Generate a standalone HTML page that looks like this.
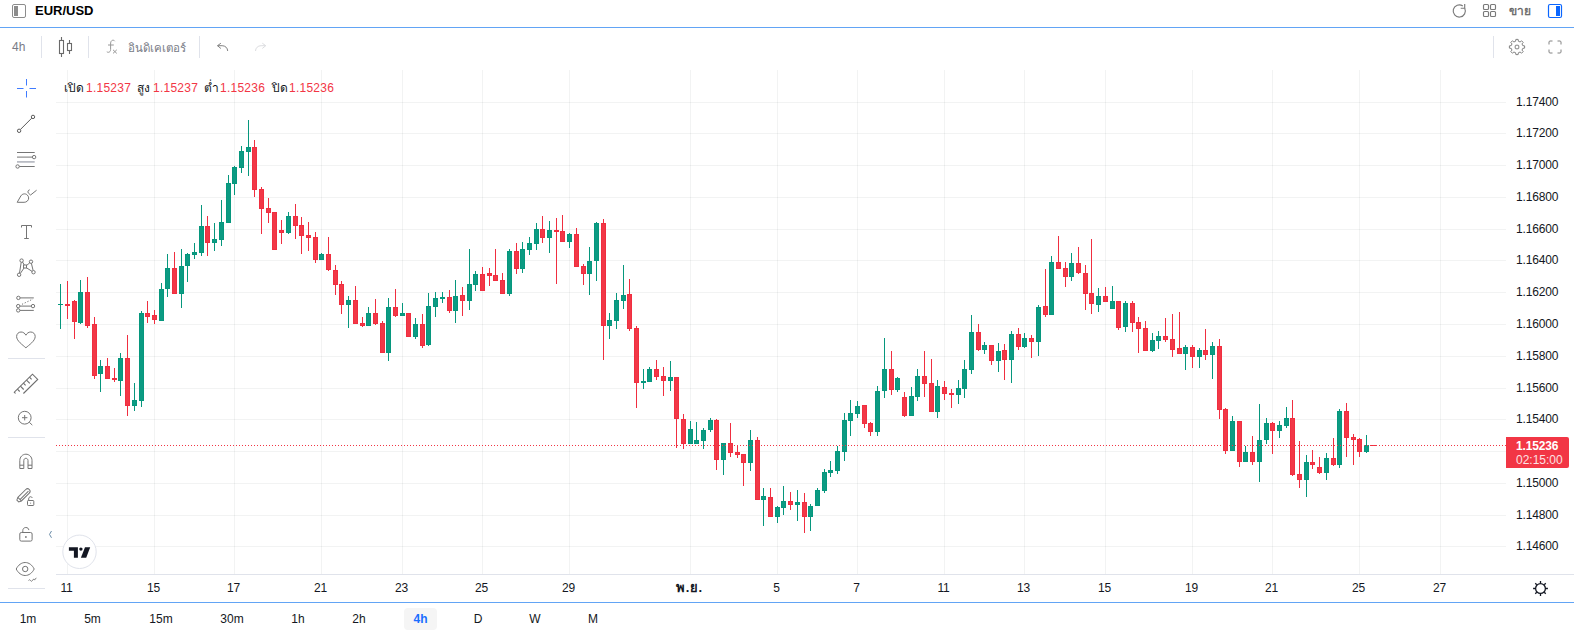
<!DOCTYPE html>
<html lang="th">
<head>
<meta charset="utf-8">
<title>EUR/USD</title>
<style>
*{box-sizing:border-box;margin:0;padding:0}
html,body{width:1574px;height:633px;overflow:hidden;background:#fff}
body{position:relative;font-family:"Liberation Sans",sans-serif;font-size:12px;color:#131722}
.abs{position:absolute}
#topbar{position:absolute;left:0;top:0;width:1574px;height:28px;border-bottom:1px solid #62a4f5}
#title{position:absolute;left:35px;top:2.5px;font-weight:bold;font-size:13px;line-height:16px;color:#000}
#sell{position:absolute;left:1509px;top:3px;font-size:12px;line-height:16px;color:#666;-webkit-text-stroke:0.35px #666}
#tb2{position:absolute;left:0;top:28px;width:1574px;height:38px}
.sep{position:absolute;top:36px;width:1px;height:22px;background:#e0e3eb}
#tf4h{position:absolute;left:12px;top:40px;font-size:12px;line-height:14px;color:#787b86}
#ind{position:absolute;left:128px;top:40px;font-size:11.5px;line-height:16px;color:#787b86}
.lg{position:absolute;top:80px;line-height:16px;font-size:12px;white-space:nowrap;color:#131722}
.lv{position:absolute;top:80px;line-height:16px;font-size:12px;white-space:nowrap;color:#f23645;letter-spacing:0.25px}
.pl{position:absolute;left:1516px;width:56px;font-size:12px;line-height:14px;color:#131722;letter-spacing:-0.15px}
.tl{position:absolute;top:581px;width:41px;text-align:center;font-size:12px;line-height:14px;color:#131722;letter-spacing:-0.15px}
.tl.b{font-weight:bold;font-size:13px;letter-spacing:.6px}
#plbl{position:absolute;left:1506px;top:437px;width:63px;height:31px;background:#f23645;border-radius:0 2px 2px 0;color:#fff;font-size:12px;line-height:14px;padding:2px 0 0 10px;letter-spacing:-0.15px}
#plbl b{display:block}
#plbl span{display:block;opacity:.85;margin-top:-0.5px;letter-spacing:0}
#bottomline{position:absolute;left:0;top:602px;width:1574px;height:1px;background:#62a4f5}
.tf{position:absolute;top:611px;width:32px;height:16px;text-align:center;font-size:12px;line-height:16px;color:#131722}
.tf.sel{color:#1a6eff;font-weight:bold;background:#f5f5f5;border-radius:4px;top:608px;height:22px;line-height:23px;left:404px !important;width:33px}
.lsep{position:absolute;left:8px;width:37px;height:1px;background:#e0e3eb}
svg{position:absolute;left:0;top:0}
</style>
</head>
<body>
<svg id="chart" width="1574" height="633" viewBox="0 0 1574 633" shape-rendering="crispEdges">
<rect x="56" y="102" width="1450" height="1" fill="rgba(42,46,57,0.06)"/>
<rect x="56" y="133" width="1450" height="1" fill="rgba(42,46,57,0.06)"/>
<rect x="56" y="165" width="1450" height="1" fill="rgba(42,46,57,0.06)"/>
<rect x="56" y="197" width="1450" height="1" fill="rgba(42,46,57,0.06)"/>
<rect x="56" y="229" width="1450" height="1" fill="rgba(42,46,57,0.06)"/>
<rect x="56" y="260" width="1450" height="1" fill="rgba(42,46,57,0.06)"/>
<rect x="56" y="292" width="1450" height="1" fill="rgba(42,46,57,0.06)"/>
<rect x="56" y="324" width="1450" height="1" fill="rgba(42,46,57,0.06)"/>
<rect x="56" y="356" width="1450" height="1" fill="rgba(42,46,57,0.06)"/>
<rect x="56" y="388" width="1450" height="1" fill="rgba(42,46,57,0.06)"/>
<rect x="56" y="419" width="1450" height="1" fill="rgba(42,46,57,0.06)"/>
<rect x="56" y="451" width="1450" height="1" fill="rgba(42,46,57,0.06)"/>
<rect x="56" y="483" width="1450" height="1" fill="rgba(42,46,57,0.06)"/>
<rect x="56" y="515" width="1450" height="1" fill="rgba(42,46,57,0.06)"/>
<rect x="56" y="546" width="1450" height="1" fill="rgba(42,46,57,0.06)"/>
<rect x="67" y="70" width="1" height="504" fill="rgba(42,46,57,0.06)"/>
<rect x="154" y="70" width="1" height="504" fill="rgba(42,46,57,0.06)"/>
<rect x="234" y="70" width="1" height="504" fill="rgba(42,46,57,0.06)"/>
<rect x="321" y="70" width="1" height="504" fill="rgba(42,46,57,0.06)"/>
<rect x="402" y="70" width="1" height="504" fill="rgba(42,46,57,0.06)"/>
<rect x="482" y="70" width="1" height="504" fill="rgba(42,46,57,0.06)"/>
<rect x="569" y="70" width="1" height="504" fill="rgba(42,46,57,0.06)"/>
<rect x="690" y="70" width="1" height="504" fill="rgba(42,46,57,0.06)"/>
<rect x="777" y="70" width="1" height="504" fill="rgba(42,46,57,0.06)"/>
<rect x="857" y="70" width="1" height="504" fill="rgba(42,46,57,0.06)"/>
<rect x="944" y="70" width="1" height="504" fill="rgba(42,46,57,0.06)"/>
<rect x="1024" y="70" width="1" height="504" fill="rgba(42,46,57,0.06)"/>
<rect x="1105" y="70" width="1" height="504" fill="rgba(42,46,57,0.06)"/>
<rect x="1192" y="70" width="1" height="504" fill="rgba(42,46,57,0.06)"/>
<rect x="1272" y="70" width="1" height="504" fill="rgba(42,46,57,0.06)"/>
<rect x="1359" y="70" width="1" height="504" fill="rgba(42,46,57,0.06)"/>
<rect x="1440" y="70" width="1" height="504" fill="rgba(42,46,57,0.06)"/>
<rect x="56" y="574" width="1518" height="1" fill="#e0e3eb"/>
<rect x="60" y="284" width="1" height="45" fill="#06977d"/><rect x="58" y="304" width="5" height="1" fill="#06977d"/>
<rect x="67" y="281" width="1" height="38" fill="#f02e40"/><rect x="65" y="304" width="5" height="2" fill="#f02e40"/>
<rect x="74" y="300" width="1" height="39" fill="#f02e40"/><rect x="72" y="301" width="5" height="21" fill="#f02e40"/><rect x="73" y="302" width="3" height="19" fill="#f23847"/>
<rect x="80" y="280" width="1" height="44" fill="#06977d"/><rect x="78" y="292" width="5" height="31" fill="#06977d"/><rect x="79" y="293" width="3" height="29" fill="#0c9b83"/>
<rect x="87" y="277" width="1" height="51" fill="#f02e40"/><rect x="85" y="292" width="5" height="34" fill="#f02e40"/><rect x="86" y="293" width="3" height="32" fill="#f23847"/>
<rect x="94" y="317" width="1" height="62" fill="#f02e40"/><rect x="92" y="324" width="5" height="52" fill="#f02e40"/><rect x="93" y="325" width="3" height="50" fill="#f23847"/>
<rect x="100" y="360" width="1" height="32" fill="#06977d"/><rect x="98" y="366" width="5" height="8" fill="#06977d"/><rect x="99" y="367" width="3" height="6" fill="#0c9b83"/>
<rect x="107" y="358" width="1" height="21" fill="#f02e40"/><rect x="105" y="366" width="5" height="13" fill="#f02e40"/><rect x="106" y="367" width="3" height="11" fill="#f23847"/>
<rect x="114" y="368" width="1" height="14" fill="#f02e40"/><rect x="112" y="378" width="5" height="2" fill="#f02e40"/>
<rect x="120" y="353" width="1" height="43" fill="#06977d"/><rect x="118" y="358" width="5" height="23" fill="#06977d"/><rect x="119" y="359" width="3" height="21" fill="#0c9b83"/>
<rect x="127" y="335" width="1" height="81" fill="#f02e40"/><rect x="125" y="358" width="5" height="48" fill="#f02e40"/><rect x="126" y="359" width="3" height="46" fill="#f23847"/>
<rect x="134" y="383" width="1" height="28" fill="#06977d"/><rect x="132" y="400" width="5" height="6" fill="#06977d"/><rect x="133" y="401" width="3" height="4" fill="#0c9b83"/>
<rect x="141" y="311" width="1" height="96" fill="#06977d"/><rect x="139" y="313" width="5" height="88" fill="#06977d"/><rect x="140" y="314" width="3" height="86" fill="#0c9b83"/>
<rect x="147" y="301" width="1" height="22" fill="#f02e40"/><rect x="145" y="313" width="5" height="4" fill="#f02e40"/><rect x="146" y="314" width="3" height="2" fill="#f23847"/>
<rect x="154" y="310" width="1" height="14" fill="#f02e40"/><rect x="152" y="315" width="5" height="5" fill="#f02e40"/><rect x="153" y="316" width="3" height="3" fill="#f23847"/>
<rect x="161" y="283" width="1" height="38" fill="#06977d"/><rect x="159" y="289" width="5" height="32" fill="#06977d"/><rect x="160" y="290" width="3" height="30" fill="#0c9b83"/>
<rect x="167" y="254" width="1" height="43" fill="#06977d"/><rect x="165" y="268" width="5" height="21" fill="#06977d"/><rect x="166" y="269" width="3" height="19" fill="#0c9b83"/>
<rect x="174" y="252" width="1" height="42" fill="#f02e40"/><rect x="172" y="268" width="5" height="26" fill="#f02e40"/><rect x="173" y="269" width="3" height="24" fill="#f23847"/>
<rect x="181" y="249" width="1" height="59" fill="#06977d"/><rect x="179" y="266" width="5" height="28" fill="#06977d"/><rect x="180" y="267" width="3" height="26" fill="#0c9b83"/>
<rect x="187" y="253" width="1" height="29" fill="#06977d"/><rect x="185" y="254" width="5" height="12" fill="#06977d"/><rect x="186" y="255" width="3" height="10" fill="#0c9b83"/>
<rect x="194" y="243" width="1" height="16" fill="#06977d"/><rect x="192" y="252" width="5" height="3" fill="#06977d"/><rect x="193" y="253" width="3" height="1" fill="#0c9b83"/>
<rect x="201" y="205" width="1" height="51" fill="#06977d"/><rect x="199" y="226" width="5" height="27" fill="#06977d"/><rect x="200" y="227" width="3" height="25" fill="#0c9b83"/>
<rect x="207" y="216" width="1" height="40" fill="#f02e40"/><rect x="205" y="226" width="5" height="17" fill="#f02e40"/><rect x="206" y="227" width="3" height="15" fill="#f23847"/>
<rect x="214" y="223" width="1" height="28" fill="#06977d"/><rect x="212" y="239" width="5" height="4" fill="#06977d"/><rect x="213" y="240" width="3" height="2" fill="#0c9b83"/>
<rect x="221" y="200" width="1" height="46" fill="#06977d"/><rect x="219" y="222" width="5" height="18" fill="#06977d"/><rect x="220" y="223" width="3" height="16" fill="#0c9b83"/>
<rect x="228" y="175" width="1" height="48" fill="#06977d"/><rect x="226" y="183" width="5" height="40" fill="#06977d"/><rect x="227" y="184" width="3" height="38" fill="#0c9b83"/>
<rect x="234" y="166" width="1" height="29" fill="#06977d"/><rect x="232" y="167" width="5" height="17" fill="#06977d"/><rect x="233" y="168" width="3" height="15" fill="#0c9b83"/>
<rect x="241" y="146" width="1" height="27" fill="#06977d"/><rect x="239" y="151" width="5" height="17" fill="#06977d"/><rect x="240" y="152" width="3" height="15" fill="#0c9b83"/>
<rect x="248" y="120" width="1" height="56" fill="#06977d"/><rect x="246" y="147" width="5" height="5" fill="#06977d"/><rect x="247" y="148" width="3" height="3" fill="#0c9b83"/>
<rect x="254" y="140" width="1" height="57" fill="#f02e40"/><rect x="252" y="147" width="5" height="43" fill="#f02e40"/><rect x="253" y="148" width="3" height="41" fill="#f23847"/>
<rect x="261" y="187" width="1" height="47" fill="#f02e40"/><rect x="259" y="189" width="5" height="20" fill="#f02e40"/><rect x="260" y="190" width="3" height="18" fill="#f23847"/>
<rect x="268" y="198" width="1" height="25" fill="#f02e40"/><rect x="266" y="208" width="5" height="5" fill="#f02e40"/><rect x="267" y="209" width="3" height="3" fill="#f23847"/>
<rect x="274" y="212" width="1" height="38" fill="#f02e40"/><rect x="272" y="212" width="5" height="38" fill="#f02e40"/><rect x="273" y="213" width="3" height="36" fill="#f23847"/>
<rect x="281" y="220" width="1" height="24" fill="#f02e40"/><rect x="279" y="230" width="5" height="3" fill="#f02e40"/><rect x="280" y="231" width="3" height="1" fill="#f23847"/>
<rect x="288" y="212" width="1" height="22" fill="#06977d"/><rect x="286" y="216" width="5" height="17" fill="#06977d"/><rect x="287" y="217" width="3" height="15" fill="#0c9b83"/>
<rect x="295" y="204" width="1" height="35" fill="#f02e40"/><rect x="293" y="216" width="5" height="10" fill="#f02e40"/><rect x="294" y="217" width="3" height="8" fill="#f23847"/>
<rect x="301" y="217" width="1" height="37" fill="#f02e40"/><rect x="299" y="225" width="5" height="11" fill="#f02e40"/><rect x="300" y="226" width="3" height="9" fill="#f23847"/>
<rect x="308" y="222" width="1" height="29" fill="#f02e40"/><rect x="306" y="235" width="5" height="3" fill="#f02e40"/><rect x="307" y="236" width="3" height="1" fill="#f23847"/>
<rect x="315" y="232" width="1" height="31" fill="#f02e40"/><rect x="313" y="237" width="5" height="23" fill="#f02e40"/><rect x="314" y="238" width="3" height="21" fill="#f23847"/>
<rect x="321" y="253" width="1" height="7" fill="#06977d"/><rect x="319" y="254" width="5" height="6" fill="#06977d"/><rect x="320" y="255" width="3" height="4" fill="#0c9b83"/>
<rect x="328" y="237" width="1" height="34" fill="#f02e40"/><rect x="326" y="254" width="5" height="16" fill="#f02e40"/><rect x="327" y="255" width="3" height="14" fill="#f23847"/>
<rect x="335" y="265" width="1" height="30" fill="#f02e40"/><rect x="333" y="270" width="5" height="15" fill="#f02e40"/><rect x="334" y="271" width="3" height="13" fill="#f23847"/>
<rect x="341" y="281" width="1" height="33" fill="#f02e40"/><rect x="339" y="284" width="5" height="21" fill="#f02e40"/><rect x="340" y="285" width="3" height="19" fill="#f23847"/>
<rect x="348" y="296" width="1" height="32" fill="#06977d"/><rect x="346" y="300" width="5" height="5" fill="#06977d"/><rect x="347" y="301" width="3" height="3" fill="#0c9b83"/>
<rect x="355" y="286" width="1" height="38" fill="#f02e40"/><rect x="353" y="300" width="5" height="24" fill="#f02e40"/><rect x="354" y="301" width="3" height="22" fill="#f23847"/>
<rect x="362" y="317" width="1" height="10" fill="#f02e40"/><rect x="360" y="323" width="5" height="3" fill="#f02e40"/><rect x="361" y="324" width="3" height="1" fill="#f23847"/>
<rect x="368" y="307" width="1" height="19" fill="#06977d"/><rect x="366" y="313" width="5" height="13" fill="#06977d"/><rect x="367" y="314" width="3" height="11" fill="#0c9b83"/>
<rect x="375" y="299" width="1" height="26" fill="#f02e40"/><rect x="373" y="313" width="5" height="11" fill="#f02e40"/><rect x="374" y="314" width="3" height="9" fill="#f23847"/>
<rect x="382" y="321" width="1" height="32" fill="#f02e40"/><rect x="380" y="323" width="5" height="30" fill="#f02e40"/><rect x="381" y="324" width="3" height="28" fill="#f23847"/>
<rect x="388" y="298" width="1" height="63" fill="#06977d"/><rect x="386" y="307" width="5" height="46" fill="#06977d"/><rect x="387" y="308" width="3" height="44" fill="#0c9b83"/>
<rect x="395" y="289" width="1" height="28" fill="#f02e40"/><rect x="393" y="307" width="5" height="9" fill="#f02e40"/><rect x="394" y="308" width="3" height="7" fill="#f23847"/>
<rect x="402" y="303" width="1" height="13" fill="#06977d"/><rect x="400" y="313" width="5" height="3" fill="#06977d"/><rect x="401" y="314" width="3" height="1" fill="#0c9b83"/>
<rect x="408" y="313" width="1" height="24" fill="#f02e40"/><rect x="406" y="313" width="5" height="24" fill="#f02e40"/><rect x="407" y="314" width="3" height="22" fill="#f23847"/>
<rect x="415" y="318" width="1" height="21" fill="#06977d"/><rect x="413" y="324" width="5" height="13" fill="#06977d"/><rect x="414" y="325" width="3" height="11" fill="#0c9b83"/>
<rect x="422" y="314" width="1" height="34" fill="#f02e40"/><rect x="420" y="324" width="5" height="22" fill="#f02e40"/><rect x="421" y="325" width="3" height="20" fill="#f23847"/>
<rect x="428" y="293" width="1" height="53" fill="#06977d"/><rect x="426" y="306" width="5" height="39" fill="#06977d"/><rect x="427" y="307" width="3" height="37" fill="#0c9b83"/>
<rect x="435" y="292" width="1" height="25" fill="#06977d"/><rect x="433" y="298" width="5" height="9" fill="#06977d"/><rect x="434" y="299" width="3" height="7" fill="#0c9b83"/>
<rect x="442" y="292" width="1" height="11" fill="#06977d"/><rect x="440" y="297" width="5" height="2" fill="#06977d"/>
<rect x="449" y="290" width="1" height="23" fill="#f02e40"/><rect x="447" y="297" width="5" height="14" fill="#f02e40"/><rect x="448" y="298" width="3" height="12" fill="#f23847"/>
<rect x="455" y="280" width="1" height="43" fill="#06977d"/><rect x="453" y="296" width="5" height="15" fill="#06977d"/><rect x="454" y="297" width="3" height="13" fill="#0c9b83"/>
<rect x="462" y="287" width="1" height="29" fill="#f02e40"/><rect x="460" y="295" width="5" height="6" fill="#f02e40"/><rect x="461" y="296" width="3" height="4" fill="#f23847"/>
<rect x="469" y="249" width="1" height="61" fill="#06977d"/><rect x="467" y="284" width="5" height="17" fill="#06977d"/><rect x="468" y="285" width="3" height="15" fill="#0c9b83"/>
<rect x="475" y="271" width="1" height="20" fill="#06977d"/><rect x="473" y="274" width="5" height="11" fill="#06977d"/><rect x="474" y="275" width="3" height="9" fill="#0c9b83"/>
<rect x="482" y="267" width="1" height="24" fill="#f02e40"/><rect x="480" y="274" width="5" height="17" fill="#f02e40"/><rect x="481" y="275" width="3" height="15" fill="#f23847"/>
<rect x="489" y="268" width="1" height="18" fill="#f02e40"/><rect x="487" y="273" width="5" height="3" fill="#f02e40"/><rect x="488" y="274" width="3" height="1" fill="#f23847"/>
<rect x="495" y="249" width="1" height="32" fill="#f02e40"/><rect x="493" y="275" width="5" height="6" fill="#f02e40"/><rect x="494" y="276" width="3" height="4" fill="#f23847"/>
<rect x="502" y="273" width="1" height="21" fill="#f02e40"/><rect x="500" y="280" width="5" height="14" fill="#f02e40"/><rect x="501" y="281" width="3" height="12" fill="#f23847"/>
<rect x="509" y="249" width="1" height="47" fill="#06977d"/><rect x="507" y="251" width="5" height="43" fill="#06977d"/><rect x="508" y="252" width="3" height="41" fill="#0c9b83"/>
<rect x="516" y="243" width="1" height="31" fill="#f02e40"/><rect x="514" y="251" width="5" height="18" fill="#f02e40"/><rect x="515" y="252" width="3" height="16" fill="#f23847"/>
<rect x="522" y="242" width="1" height="31" fill="#06977d"/><rect x="520" y="249" width="5" height="20" fill="#06977d"/><rect x="521" y="250" width="3" height="18" fill="#0c9b83"/>
<rect x="529" y="237" width="1" height="18" fill="#06977d"/><rect x="527" y="243" width="5" height="7" fill="#06977d"/><rect x="528" y="244" width="3" height="5" fill="#0c9b83"/>
<rect x="536" y="223" width="1" height="27" fill="#06977d"/><rect x="534" y="229" width="5" height="15" fill="#06977d"/><rect x="535" y="230" width="3" height="13" fill="#0c9b83"/>
<rect x="542" y="216" width="1" height="27" fill="#f02e40"/><rect x="540" y="229" width="5" height="9" fill="#f02e40"/><rect x="541" y="230" width="3" height="7" fill="#f23847"/>
<rect x="549" y="221" width="1" height="32" fill="#06977d"/><rect x="547" y="230" width="5" height="8" fill="#06977d"/><rect x="548" y="231" width="3" height="6" fill="#0c9b83"/>
<rect x="556" y="218" width="1" height="66" fill="#f02e40"/><rect x="554" y="230" width="5" height="2" fill="#f02e40"/>
<rect x="562" y="215" width="1" height="27" fill="#f02e40"/><rect x="560" y="231" width="5" height="11" fill="#f02e40"/><rect x="561" y="232" width="3" height="9" fill="#f23847"/>
<rect x="569" y="233" width="1" height="15" fill="#06977d"/><rect x="567" y="234" width="5" height="8" fill="#06977d"/><rect x="568" y="235" width="3" height="6" fill="#0c9b83"/>
<rect x="576" y="228" width="1" height="39" fill="#f02e40"/><rect x="574" y="234" width="5" height="33" fill="#f02e40"/><rect x="575" y="235" width="3" height="31" fill="#f23847"/>
<rect x="583" y="264" width="1" height="21" fill="#f02e40"/><rect x="581" y="266" width="5" height="8" fill="#f02e40"/><rect x="582" y="267" width="3" height="6" fill="#f23847"/>
<rect x="589" y="247" width="1" height="48" fill="#06977d"/><rect x="587" y="261" width="5" height="13" fill="#06977d"/><rect x="588" y="262" width="3" height="11" fill="#0c9b83"/>
<rect x="596" y="222" width="1" height="59" fill="#06977d"/><rect x="594" y="223" width="5" height="38" fill="#06977d"/><rect x="595" y="224" width="3" height="36" fill="#0c9b83"/>
<rect x="603" y="219" width="1" height="141" fill="#f02e40"/><rect x="601" y="223" width="5" height="103" fill="#f02e40"/><rect x="602" y="224" width="3" height="101" fill="#f23847"/>
<rect x="609" y="313" width="1" height="26" fill="#06977d"/><rect x="607" y="320" width="5" height="6" fill="#06977d"/><rect x="608" y="321" width="3" height="4" fill="#0c9b83"/>
<rect x="616" y="293" width="1" height="36" fill="#06977d"/><rect x="614" y="300" width="5" height="21" fill="#06977d"/><rect x="615" y="301" width="3" height="19" fill="#0c9b83"/>
<rect x="623" y="265" width="1" height="44" fill="#06977d"/><rect x="621" y="295" width="5" height="6" fill="#06977d"/><rect x="622" y="296" width="3" height="4" fill="#0c9b83"/>
<rect x="629" y="279" width="1" height="52" fill="#f02e40"/><rect x="627" y="294" width="5" height="35" fill="#f02e40"/><rect x="628" y="295" width="3" height="33" fill="#f23847"/>
<rect x="636" y="326" width="1" height="82" fill="#f02e40"/><rect x="634" y="328" width="5" height="55" fill="#f02e40"/><rect x="635" y="329" width="3" height="53" fill="#f23847"/>
<rect x="643" y="369" width="1" height="20" fill="#06977d"/><rect x="641" y="381" width="5" height="2" fill="#06977d"/>
<rect x="649" y="367" width="1" height="15" fill="#06977d"/><rect x="647" y="369" width="5" height="13" fill="#06977d"/><rect x="648" y="370" width="3" height="11" fill="#0c9b83"/>
<rect x="656" y="360" width="1" height="20" fill="#f02e40"/><rect x="654" y="369" width="5" height="8" fill="#f02e40"/><rect x="655" y="370" width="3" height="6" fill="#f23847"/>
<rect x="663" y="367" width="1" height="29" fill="#f02e40"/><rect x="661" y="376" width="5" height="5" fill="#f02e40"/><rect x="662" y="377" width="3" height="3" fill="#f23847"/>
<rect x="670" y="361" width="1" height="30" fill="#06977d"/><rect x="668" y="377" width="5" height="4" fill="#06977d"/><rect x="669" y="378" width="3" height="2" fill="#0c9b83"/>
<rect x="676" y="377" width="1" height="71" fill="#f02e40"/><rect x="674" y="377" width="5" height="42" fill="#f02e40"/><rect x="675" y="378" width="3" height="40" fill="#f23847"/>
<rect x="683" y="414" width="1" height="35" fill="#f02e40"/><rect x="681" y="419" width="5" height="25" fill="#f02e40"/><rect x="682" y="420" width="3" height="23" fill="#f23847"/>
<rect x="690" y="421" width="1" height="23" fill="#06977d"/><rect x="688" y="429" width="5" height="15" fill="#06977d"/><rect x="689" y="430" width="3" height="13" fill="#0c9b83"/>
<rect x="696" y="422" width="1" height="22" fill="#06977d"/><rect x="694" y="440" width="5" height="4" fill="#06977d"/><rect x="695" y="441" width="3" height="2" fill="#0c9b83"/>
<rect x="703" y="428" width="1" height="21" fill="#06977d"/><rect x="701" y="430" width="5" height="11" fill="#06977d"/><rect x="702" y="431" width="3" height="9" fill="#0c9b83"/>
<rect x="710" y="418" width="1" height="14" fill="#06977d"/><rect x="708" y="420" width="5" height="10" fill="#06977d"/><rect x="709" y="421" width="3" height="8" fill="#0c9b83"/>
<rect x="716" y="419" width="1" height="51" fill="#f02e40"/><rect x="714" y="420" width="5" height="40" fill="#f02e40"/><rect x="715" y="421" width="3" height="38" fill="#f23847"/>
<rect x="723" y="443" width="1" height="32" fill="#06977d"/><rect x="721" y="443" width="5" height="17" fill="#06977d"/><rect x="722" y="444" width="3" height="15" fill="#0c9b83"/>
<rect x="730" y="423" width="1" height="34" fill="#f02e40"/><rect x="728" y="443" width="5" height="10" fill="#f02e40"/><rect x="729" y="444" width="3" height="8" fill="#f23847"/>
<rect x="737" y="445" width="1" height="13" fill="#f02e40"/><rect x="735" y="452" width="5" height="3" fill="#f02e40"/><rect x="736" y="453" width="3" height="1" fill="#f23847"/>
<rect x="743" y="454" width="1" height="32" fill="#f02e40"/><rect x="741" y="454" width="5" height="9" fill="#f02e40"/><rect x="742" y="455" width="3" height="7" fill="#f23847"/>
<rect x="750" y="430" width="1" height="41" fill="#06977d"/><rect x="748" y="440" width="5" height="23" fill="#06977d"/><rect x="749" y="441" width="3" height="21" fill="#0c9b83"/>
<rect x="757" y="437" width="1" height="63" fill="#f02e40"/><rect x="755" y="440" width="5" height="60" fill="#f02e40"/><rect x="756" y="441" width="3" height="58" fill="#f23847"/>
<rect x="763" y="488" width="1" height="38" fill="#06977d"/><rect x="761" y="496" width="5" height="4" fill="#06977d"/><rect x="762" y="497" width="3" height="2" fill="#0c9b83"/>
<rect x="770" y="488" width="1" height="29" fill="#f02e40"/><rect x="768" y="497" width="5" height="20" fill="#f02e40"/><rect x="769" y="498" width="3" height="18" fill="#f23847"/>
<rect x="777" y="506" width="1" height="17" fill="#06977d"/><rect x="775" y="507" width="5" height="10" fill="#06977d"/><rect x="776" y="508" width="3" height="8" fill="#0c9b83"/>
<rect x="783" y="486" width="1" height="29" fill="#06977d"/><rect x="781" y="501" width="5" height="7" fill="#06977d"/><rect x="782" y="502" width="3" height="5" fill="#0c9b83"/>
<rect x="790" y="492" width="1" height="18" fill="#f02e40"/><rect x="788" y="501" width="5" height="4" fill="#f02e40"/><rect x="789" y="502" width="3" height="2" fill="#f23847"/>
<rect x="797" y="490" width="1" height="31" fill="#06977d"/><rect x="795" y="502" width="5" height="3" fill="#06977d"/><rect x="796" y="503" width="3" height="1" fill="#0c9b83"/>
<rect x="804" y="493" width="1" height="40" fill="#f02e40"/><rect x="802" y="502" width="5" height="15" fill="#f02e40"/><rect x="803" y="503" width="3" height="13" fill="#f23847"/>
<rect x="810" y="504" width="1" height="27" fill="#06977d"/><rect x="808" y="506" width="5" height="11" fill="#06977d"/><rect x="809" y="507" width="3" height="9" fill="#0c9b83"/>
<rect x="817" y="488" width="1" height="18" fill="#06977d"/><rect x="815" y="490" width="5" height="16" fill="#06977d"/><rect x="816" y="491" width="3" height="14" fill="#0c9b83"/>
<rect x="824" y="469" width="1" height="24" fill="#06977d"/><rect x="822" y="472" width="5" height="19" fill="#06977d"/><rect x="823" y="473" width="3" height="17" fill="#0c9b83"/>
<rect x="830" y="461" width="1" height="16" fill="#06977d"/><rect x="828" y="470" width="5" height="3" fill="#06977d"/><rect x="829" y="471" width="3" height="1" fill="#0c9b83"/>
<rect x="837" y="446" width="1" height="28" fill="#06977d"/><rect x="835" y="451" width="5" height="20" fill="#06977d"/><rect x="836" y="452" width="3" height="18" fill="#0c9b83"/>
<rect x="844" y="413" width="1" height="48" fill="#06977d"/><rect x="842" y="420" width="5" height="32" fill="#06977d"/><rect x="843" y="421" width="3" height="30" fill="#0c9b83"/>
<rect x="850" y="400" width="1" height="36" fill="#06977d"/><rect x="848" y="413" width="5" height="8" fill="#06977d"/><rect x="849" y="414" width="3" height="6" fill="#0c9b83"/>
<rect x="857" y="401" width="1" height="17" fill="#06977d"/><rect x="855" y="406" width="5" height="8" fill="#06977d"/><rect x="856" y="407" width="3" height="6" fill="#0c9b83"/>
<rect x="864" y="405" width="1" height="23" fill="#f02e40"/><rect x="862" y="405" width="5" height="19" fill="#f02e40"/><rect x="863" y="406" width="3" height="17" fill="#f23847"/>
<rect x="870" y="422" width="1" height="14" fill="#f02e40"/><rect x="868" y="423" width="5" height="9" fill="#f02e40"/><rect x="869" y="424" width="3" height="7" fill="#f23847"/>
<rect x="877" y="386" width="1" height="50" fill="#06977d"/><rect x="875" y="391" width="5" height="41" fill="#06977d"/><rect x="876" y="392" width="3" height="39" fill="#0c9b83"/>
<rect x="884" y="338" width="1" height="60" fill="#06977d"/><rect x="882" y="369" width="5" height="22" fill="#06977d"/><rect x="883" y="370" width="3" height="20" fill="#0c9b83"/>
<rect x="891" y="351" width="1" height="44" fill="#f02e40"/><rect x="889" y="369" width="5" height="21" fill="#f02e40"/><rect x="890" y="370" width="3" height="19" fill="#f23847"/>
<rect x="897" y="377" width="1" height="15" fill="#06977d"/><rect x="895" y="378" width="5" height="12" fill="#06977d"/><rect x="896" y="379" width="3" height="10" fill="#0c9b83"/>
<rect x="904" y="392" width="1" height="25" fill="#f02e40"/><rect x="902" y="397" width="5" height="19" fill="#f02e40"/><rect x="903" y="398" width="3" height="17" fill="#f23847"/>
<rect x="911" y="387" width="1" height="29" fill="#06977d"/><rect x="909" y="396" width="5" height="20" fill="#06977d"/><rect x="910" y="397" width="3" height="18" fill="#0c9b83"/>
<rect x="917" y="369" width="1" height="32" fill="#06977d"/><rect x="915" y="376" width="5" height="21" fill="#06977d"/><rect x="916" y="377" width="3" height="19" fill="#0c9b83"/>
<rect x="924" y="351" width="1" height="46" fill="#f02e40"/><rect x="922" y="376" width="5" height="8" fill="#f02e40"/><rect x="923" y="377" width="3" height="6" fill="#f23847"/>
<rect x="931" y="359" width="1" height="53" fill="#f02e40"/><rect x="929" y="383" width="5" height="29" fill="#f02e40"/><rect x="930" y="384" width="3" height="27" fill="#f23847"/>
<rect x="937" y="380" width="1" height="38" fill="#06977d"/><rect x="935" y="386" width="5" height="26" fill="#06977d"/><rect x="936" y="387" width="3" height="24" fill="#0c9b83"/>
<rect x="944" y="381" width="1" height="19" fill="#f02e40"/><rect x="942" y="387" width="5" height="7" fill="#f02e40"/><rect x="943" y="388" width="3" height="5" fill="#f23847"/>
<rect x="951" y="389" width="1" height="19" fill="#f02e40"/><rect x="949" y="393" width="5" height="2" fill="#f02e40"/>
<rect x="958" y="380" width="1" height="24" fill="#06977d"/><rect x="956" y="388" width="5" height="7" fill="#06977d"/><rect x="957" y="389" width="3" height="5" fill="#0c9b83"/>
<rect x="964" y="360" width="1" height="38" fill="#06977d"/><rect x="962" y="369" width="5" height="20" fill="#06977d"/><rect x="963" y="370" width="3" height="18" fill="#0c9b83"/>
<rect x="971" y="315" width="1" height="59" fill="#06977d"/><rect x="969" y="332" width="5" height="38" fill="#06977d"/><rect x="970" y="333" width="3" height="36" fill="#0c9b83"/>
<rect x="978" y="324" width="1" height="27" fill="#f02e40"/><rect x="976" y="332" width="5" height="18" fill="#f02e40"/><rect x="977" y="333" width="3" height="16" fill="#f23847"/>
<rect x="984" y="342" width="1" height="12" fill="#06977d"/><rect x="982" y="345" width="5" height="5" fill="#06977d"/><rect x="983" y="346" width="3" height="3" fill="#0c9b83"/>
<rect x="991" y="345" width="1" height="20" fill="#f02e40"/><rect x="989" y="345" width="5" height="16" fill="#f02e40"/><rect x="990" y="346" width="3" height="14" fill="#f23847"/>
<rect x="998" y="343" width="1" height="29" fill="#06977d"/><rect x="996" y="351" width="5" height="10" fill="#06977d"/><rect x="997" y="352" width="3" height="8" fill="#0c9b83"/>
<rect x="1004" y="344" width="1" height="36" fill="#f02e40"/><rect x="1002" y="350" width="5" height="10" fill="#f02e40"/><rect x="1003" y="351" width="3" height="8" fill="#f23847"/>
<rect x="1011" y="331" width="1" height="52" fill="#06977d"/><rect x="1009" y="334" width="5" height="26" fill="#06977d"/><rect x="1010" y="335" width="3" height="24" fill="#0c9b83"/>
<rect x="1018" y="328" width="1" height="22" fill="#f02e40"/><rect x="1016" y="334" width="5" height="13" fill="#f02e40"/><rect x="1017" y="335" width="3" height="11" fill="#f23847"/>
<rect x="1024" y="333" width="1" height="15" fill="#06977d"/><rect x="1022" y="338" width="5" height="9" fill="#06977d"/><rect x="1023" y="339" width="3" height="7" fill="#0c9b83"/>
<rect x="1031" y="335" width="1" height="23" fill="#f02e40"/><rect x="1029" y="338" width="5" height="4" fill="#f02e40"/><rect x="1030" y="339" width="3" height="2" fill="#f23847"/>
<rect x="1038" y="305" width="1" height="51" fill="#06977d"/><rect x="1036" y="307" width="5" height="35" fill="#06977d"/><rect x="1037" y="308" width="3" height="33" fill="#0c9b83"/>
<rect x="1045" y="269" width="1" height="48" fill="#f02e40"/><rect x="1043" y="306" width="5" height="9" fill="#f02e40"/><rect x="1044" y="307" width="3" height="7" fill="#f23847"/>
<rect x="1051" y="256" width="1" height="59" fill="#06977d"/><rect x="1049" y="262" width="5" height="53" fill="#06977d"/><rect x="1050" y="263" width="3" height="51" fill="#0c9b83"/>
<rect x="1058" y="236" width="1" height="33" fill="#f02e40"/><rect x="1056" y="262" width="5" height="7" fill="#f02e40"/><rect x="1057" y="263" width="3" height="5" fill="#f23847"/>
<rect x="1065" y="262" width="1" height="25" fill="#f02e40"/><rect x="1063" y="268" width="5" height="9" fill="#f02e40"/><rect x="1064" y="269" width="3" height="7" fill="#f23847"/>
<rect x="1071" y="253" width="1" height="28" fill="#06977d"/><rect x="1069" y="263" width="5" height="14" fill="#06977d"/><rect x="1070" y="264" width="3" height="12" fill="#0c9b83"/>
<rect x="1078" y="247" width="1" height="27" fill="#f02e40"/><rect x="1076" y="263" width="5" height="10" fill="#f02e40"/><rect x="1077" y="264" width="3" height="8" fill="#f23847"/>
<rect x="1085" y="265" width="1" height="45" fill="#f02e40"/><rect x="1083" y="273" width="5" height="21" fill="#f02e40"/><rect x="1084" y="274" width="3" height="19" fill="#f23847"/>
<rect x="1091" y="239" width="1" height="75" fill="#f02e40"/><rect x="1089" y="293" width="5" height="11" fill="#f02e40"/><rect x="1090" y="294" width="3" height="9" fill="#f23847"/>
<rect x="1098" y="288" width="1" height="24" fill="#06977d"/><rect x="1096" y="296" width="5" height="9" fill="#06977d"/><rect x="1097" y="297" width="3" height="7" fill="#0c9b83"/>
<rect x="1105" y="287" width="1" height="15" fill="#f02e40"/><rect x="1103" y="296" width="5" height="6" fill="#f02e40"/><rect x="1104" y="297" width="3" height="4" fill="#f23847"/>
<rect x="1112" y="286" width="1" height="23" fill="#06977d"/><rect x="1110" y="301" width="5" height="8" fill="#06977d"/><rect x="1111" y="302" width="3" height="6" fill="#0c9b83"/>
<rect x="1118" y="301" width="1" height="29" fill="#f02e40"/><rect x="1116" y="301" width="5" height="27" fill="#f02e40"/><rect x="1117" y="302" width="3" height="25" fill="#f23847"/>
<rect x="1125" y="301" width="1" height="31" fill="#06977d"/><rect x="1123" y="303" width="5" height="24" fill="#06977d"/><rect x="1124" y="304" width="3" height="22" fill="#0c9b83"/>
<rect x="1132" y="301" width="1" height="31" fill="#f02e40"/><rect x="1130" y="303" width="5" height="20" fill="#f02e40"/><rect x="1131" y="304" width="3" height="18" fill="#f23847"/>
<rect x="1138" y="317" width="1" height="36" fill="#f02e40"/><rect x="1136" y="322" width="5" height="7" fill="#f02e40"/><rect x="1137" y="323" width="3" height="5" fill="#f23847"/>
<rect x="1145" y="321" width="1" height="30" fill="#f02e40"/><rect x="1143" y="328" width="5" height="23" fill="#f02e40"/><rect x="1144" y="329" width="3" height="21" fill="#f23847"/>
<rect x="1152" y="333" width="1" height="19" fill="#06977d"/><rect x="1150" y="340" width="5" height="11" fill="#06977d"/><rect x="1151" y="341" width="3" height="9" fill="#0c9b83"/>
<rect x="1158" y="331" width="1" height="18" fill="#06977d"/><rect x="1156" y="336" width="5" height="5" fill="#06977d"/><rect x="1157" y="337" width="3" height="3" fill="#0c9b83"/>
<rect x="1165" y="318" width="1" height="24" fill="#f02e40"/><rect x="1163" y="336" width="5" height="4" fill="#f02e40"/><rect x="1164" y="337" width="3" height="2" fill="#f23847"/>
<rect x="1172" y="314" width="1" height="43" fill="#f02e40"/><rect x="1170" y="339" width="5" height="11" fill="#f02e40"/><rect x="1171" y="340" width="3" height="9" fill="#f23847"/>
<rect x="1179" y="312" width="1" height="42" fill="#f02e40"/><rect x="1177" y="348" width="5" height="6" fill="#f02e40"/><rect x="1178" y="349" width="3" height="4" fill="#f23847"/>
<rect x="1185" y="345" width="1" height="25" fill="#06977d"/><rect x="1183" y="347" width="5" height="7" fill="#06977d"/><rect x="1184" y="348" width="3" height="5" fill="#0c9b83"/>
<rect x="1192" y="345" width="1" height="23" fill="#f02e40"/><rect x="1190" y="347" width="5" height="10" fill="#f02e40"/><rect x="1191" y="348" width="3" height="8" fill="#f23847"/>
<rect x="1199" y="348" width="1" height="20" fill="#06977d"/><rect x="1197" y="350" width="5" height="7" fill="#06977d"/><rect x="1198" y="351" width="3" height="5" fill="#0c9b83"/>
<rect x="1205" y="329" width="1" height="31" fill="#f02e40"/><rect x="1203" y="350" width="5" height="5" fill="#f02e40"/><rect x="1204" y="351" width="3" height="3" fill="#f23847"/>
<rect x="1212" y="342" width="1" height="37" fill="#06977d"/><rect x="1210" y="346" width="5" height="9" fill="#06977d"/><rect x="1211" y="347" width="3" height="7" fill="#0c9b83"/>
<rect x="1219" y="339" width="1" height="80" fill="#f02e40"/><rect x="1217" y="346" width="5" height="64" fill="#f02e40"/><rect x="1218" y="347" width="3" height="62" fill="#f23847"/>
<rect x="1225" y="408" width="1" height="46" fill="#f02e40"/><rect x="1223" y="409" width="5" height="42" fill="#f02e40"/><rect x="1224" y="410" width="3" height="40" fill="#f23847"/>
<rect x="1232" y="416" width="1" height="35" fill="#06977d"/><rect x="1230" y="421" width="5" height="30" fill="#06977d"/><rect x="1231" y="422" width="3" height="28" fill="#0c9b83"/>
<rect x="1239" y="421" width="1" height="46" fill="#f02e40"/><rect x="1237" y="421" width="5" height="41" fill="#f02e40"/><rect x="1238" y="422" width="3" height="39" fill="#f23847"/>
<rect x="1245" y="446" width="1" height="16" fill="#06977d"/><rect x="1243" y="452" width="5" height="10" fill="#06977d"/><rect x="1244" y="453" width="3" height="8" fill="#0c9b83"/>
<rect x="1252" y="436" width="1" height="29" fill="#f02e40"/><rect x="1250" y="452" width="5" height="10" fill="#f02e40"/><rect x="1251" y="453" width="3" height="8" fill="#f23847"/>
<rect x="1259" y="404" width="1" height="78" fill="#06977d"/><rect x="1257" y="440" width="5" height="22" fill="#06977d"/><rect x="1258" y="441" width="3" height="20" fill="#0c9b83"/>
<rect x="1266" y="418" width="1" height="26" fill="#06977d"/><rect x="1264" y="423" width="5" height="17" fill="#06977d"/><rect x="1265" y="424" width="3" height="15" fill="#0c9b83"/>
<rect x="1272" y="422" width="1" height="32" fill="#f02e40"/><rect x="1270" y="423" width="5" height="8" fill="#f02e40"/><rect x="1271" y="424" width="3" height="6" fill="#f23847"/>
<rect x="1279" y="421" width="1" height="17" fill="#06977d"/><rect x="1277" y="425" width="5" height="6" fill="#06977d"/><rect x="1278" y="426" width="3" height="4" fill="#0c9b83"/>
<rect x="1286" y="407" width="1" height="21" fill="#06977d"/><rect x="1284" y="418" width="5" height="8" fill="#06977d"/><rect x="1285" y="419" width="3" height="6" fill="#0c9b83"/>
<rect x="1292" y="400" width="1" height="76" fill="#f02e40"/><rect x="1290" y="418" width="5" height="57" fill="#f02e40"/><rect x="1291" y="419" width="3" height="55" fill="#f23847"/>
<rect x="1299" y="441" width="1" height="47" fill="#f02e40"/><rect x="1297" y="474" width="5" height="6" fill="#f02e40"/><rect x="1298" y="475" width="3" height="4" fill="#f23847"/>
<rect x="1306" y="455" width="1" height="42" fill="#06977d"/><rect x="1304" y="462" width="5" height="18" fill="#06977d"/><rect x="1305" y="463" width="3" height="16" fill="#0c9b83"/>
<rect x="1312" y="450" width="1" height="19" fill="#f02e40"/><rect x="1310" y="462" width="5" height="3" fill="#f02e40"/><rect x="1311" y="463" width="3" height="1" fill="#f23847"/>
<rect x="1319" y="457" width="1" height="17" fill="#f02e40"/><rect x="1317" y="467" width="5" height="6" fill="#f02e40"/><rect x="1318" y="468" width="3" height="4" fill="#f23847"/>
<rect x="1326" y="453" width="1" height="27" fill="#06977d"/><rect x="1324" y="458" width="5" height="15" fill="#06977d"/><rect x="1325" y="459" width="3" height="13" fill="#0c9b83"/>
<rect x="1333" y="438" width="1" height="28" fill="#f02e40"/><rect x="1331" y="458" width="5" height="7" fill="#f02e40"/><rect x="1332" y="459" width="3" height="5" fill="#f23847"/>
<rect x="1339" y="409" width="1" height="59" fill="#06977d"/><rect x="1337" y="411" width="5" height="54" fill="#06977d"/><rect x="1338" y="412" width="3" height="52" fill="#0c9b83"/>
<rect x="1346" y="403" width="1" height="54" fill="#f02e40"/><rect x="1344" y="411" width="5" height="27" fill="#f02e40"/><rect x="1345" y="412" width="3" height="25" fill="#f23847"/>
<rect x="1353" y="434" width="1" height="31" fill="#f02e40"/><rect x="1351" y="437" width="5" height="3" fill="#f02e40"/><rect x="1352" y="438" width="3" height="1" fill="#f23847"/>
<rect x="1359" y="438" width="1" height="19" fill="#f02e40"/><rect x="1357" y="439" width="5" height="13" fill="#f02e40"/><rect x="1358" y="440" width="3" height="11" fill="#f23847"/>
<rect x="1366" y="435" width="1" height="18" fill="#06977d"/><rect x="1364" y="445" width="5" height="7" fill="#06977d"/><rect x="1365" y="446" width="3" height="5" fill="#0c9b83"/>
<rect x="1370" y="445" width="7" height="1" fill="#f02e40"/>
<line x1="56" y1="445.5" x2="1506" y2="445.5" stroke="#f23645" stroke-width="1" stroke-dasharray="1 2"/>
</svg>
<div id="topbar"></div>
<div id="title">EUR/USD</div>
<div id="sell">ขาย</div>
<div id="tf4h">4h</div>
<div class="sep" style="left:41px"></div>
<div class="sep" style="left:88px"></div>
<div class="sep" style="left:199px"></div>
<div class="sep" style="left:1493px"></div>
<div id="ind">อินดิเคเตอร์</div>
<div class="lg" style="left:64px">เปิด</div><div class="lv" style="left:86px">1.15237</div>
<div class="lg" style="left:137px">สูง</div><div class="lv" style="left:153px">1.15237</div>
<div class="lg" style="left:204px">ต่ำ</div><div class="lv" style="left:220px">1.15236</div>
<div class="lg" style="left:272px">ปิด</div><div class="lv" style="left:289px">1.15236</div>
<div class="pl" style="top:95px">1.17400</div>
<div class="pl" style="top:126px">1.17200</div>
<div class="pl" style="top:158px">1.17000</div>
<div class="pl" style="top:190px">1.16800</div>
<div class="pl" style="top:222px">1.16600</div>
<div class="pl" style="top:253px">1.16400</div>
<div class="pl" style="top:285px">1.16200</div>
<div class="pl" style="top:317px">1.16000</div>
<div class="pl" style="top:349px">1.15800</div>
<div class="pl" style="top:381px">1.15600</div>
<div class="pl" style="top:412px">1.15400</div>
<div class="pl" style="top:476px">1.15000</div>
<div class="pl" style="top:508px">1.14800</div>
<div class="pl" style="top:539px">1.14600</div>
<div id="plbl"><b>1.15236</b><span>02:15:00</span></div>
<div class="tl" style="left:46px">11</div>
<div class="tl" style="left:133px">15</div>
<div class="tl" style="left:213px">17</div>
<div class="tl" style="left:300px">21</div>
<div class="tl" style="left:381px">23</div>
<div class="tl" style="left:461px">25</div>
<div class="tl" style="left:548px">29</div>
<div class="tl b" style="left:669px">พ.ย.</div>
<div class="tl" style="left:756px">5</div>
<div class="tl" style="left:836px">7</div>
<div class="tl" style="left:923px">11</div>
<div class="tl" style="left:1003px">13</div>
<div class="tl" style="left:1084px">15</div>
<div class="tl" style="left:1171px">19</div>
<div class="tl" style="left:1251px">21</div>
<div class="tl" style="left:1338px">25</div>
<div class="tl" style="left:1419px">27</div>
<div id="bottomline"></div>
<div class="tf" style="left:12px">1m</div>
<div class="tf" style="left:76.5px">5m</div>
<div class="tf" style="left:145px">15m</div>
<div class="tf" style="left:216px">30m</div>
<div class="tf" style="left:282px">1h</div>
<div class="tf" style="left:343px">2h</div>
<div class="tf sel" style="left:404.5px">4h</div>
<div class="tf" style="left:462px">D</div>
<div class="tf" style="left:519px">W</div>
<div class="tf" style="left:577px">M</div>
<div class="lsep" style="top:358px"></div>
<div class="lsep" style="top:437px"></div>
<div class="lsep" style="top:588px"></div>
<svg id="icons" width="1574" height="633" viewBox="0 0 1574 633" fill="none" stroke="#787b86" stroke-width="1">
<!-- ICONS -->
<!-- top-left panel icon -->
<rect x="12.5" y="4.5" width="13" height="13" rx="1.5" stroke="#8c8c8c"/>
<rect x="14" y="6" width="4" height="10" fill="#8c8c8c" stroke="none"/>
<!-- refresh -->
<path d="M1464.7 8.2A6.1 6.1 0 1 1 1462.8 6" stroke="#7a7a7a" stroke-width="1.15"/>
<path d="M1464.7 4v4.200h-4" stroke="#7a7a7a" stroke-width="1.15"/>
<!-- grid -->
<g stroke="#7a7a7a" stroke-width="1.15">
<rect x="1483.5" y="4.5" width="5" height="5" rx="1"/>
<rect x="1490.5" y="4.5" width="5" height="5" rx="1"/>
<rect x="1483.5" y="11.5" width="5" height="5" rx="1"/>
<rect x="1490.5" y="11.5" width="5" height="5" rx="1"/>
</g>
<!-- right panel icon (blue) -->
<rect x="1548.5" y="4.5" width="13" height="13" rx="1.5" stroke="#0a66ff" stroke-width="1.2"/>
<rect x="1556" y="6" width="4" height="10" fill="#0a66ff" stroke="none"/>
<!-- candle icon -->
<g stroke="#6a6a6a" stroke-width="1.1">
<rect x="59.5" y="40.5" width="4" height="13"/>
<path d="M61.5 37v3.5M61.5 53.5V57"/>
<rect x="67.5" y="43.5" width="4" height="7"/>
<path d="M69.5 40v3.5M69.5 50.5V54"/>
</g>
<!-- fx -->
<g stroke="#989898">
<path d="M114.8 41.2c-.6-1-2-1.300-3-.6c-1 .7-1.200 2-1.200 3.400v5.500c0 2.200-1.800 3.600-3.800 2.300"/>
<path d="M108 45h5.800"/>
<path d="M113 49.800l3.800 3.600M116.800 49.800l-3.800 3.600"/>
</g>
<!-- undo -->
<path d="M220.900 43.200l-3.400 2.500l3.400 2.800M217.600 45.700h4.500c3.200 0 5.500 2.200 5.600 5.300" stroke="#828282"/>
<!-- redo -->
<path d="M262.300 43.200l3.400 2.500l-3.400 2.800M265.600 45.700h-4.500c-3.200 0-5.500 2.200-5.600 5.300" stroke="#dcdde0"/>
<!-- gear -->
<g stroke="#828282">
<path id="gearp" d="M1515.62 41.26L1515.86 39.38L1518.14 39.38L1518.38 41.26L1520.08 41.97L1521.58 40.81L1523.19 42.42L1522.03 43.92L1522.74 45.62L1524.62 45.86L1524.62 48.14L1522.74 48.38L1522.03 50.08L1523.19 51.58L1521.58 53.19L1520.08 52.03L1518.38 52.74L1518.14 54.62L1515.86 54.62L1515.62 52.74L1513.92 52.03L1512.42 53.19L1510.81 51.58L1511.97 50.08L1511.26 48.38L1509.38 48.14L1509.38 45.86L1511.26 45.62L1511.97 43.92L1510.81 42.42L1512.42 40.81L1513.92 41.97z" stroke-linejoin="round"/>
<rect x="1515.200" y="45.200" width="3.600" height="3.600" rx=".8"/>
</g>
<!-- fullscreen -->
<path d="M1549 44.500v-2.500c0-.6.400-1 1-1h2.500M1557.500 41h2.500c.6 0 1 .4 1 1v2.500M1561 49.500v2.500c0 .6-.400 1-1 1h-2.500M1552.500 53h-2.500c-.6 0-1-.4-1-1v-2.500" stroke="#828282"/>
<!-- crosshair -->
<path d="M17 88.500h6.500M29.500 88.500h6.500M26.500 79v6.500M26.500 91v6.500" stroke="#3f7bff"/>
<!-- trend line -->
<g stroke="#5a5a5a">
<path d="M20.400 129.500l11.300-11.300"/>
<circle cx="19.100" cy="130.800" r="1.700"/>
<circle cx="33" cy="116.900" r="1.700"/>
</g>
<!-- fib -->
<g stroke="#757575">
<path d="M17 152.500h17.700M17 157.100h15.400"/>
<path d="M17 161.900h17.700" stroke="#b2b5be" stroke-width="1.600"/>
<path d="M19.300 166.500h15.400"/>
<circle cx="34.100" cy="157.100" r="1.700"/>
<circle cx="17.600" cy="166.500" r="1.700"/>
</g>
<!-- brush -->
<g stroke="#757575">
<path d="M17.200 202.300l3.600-6.300c1.400-2.300 4.400-2.800 6.300-1.200c2 1.700 2.100 4.600.2 6.300c-.9.800-2 1.200-3.200 1.200z"/>
<path d="M29.700 189.800c-1.600.3-2.300 2-1.300 3.300l2.200 1.900l6-4.800"/>
</g>
<!-- T -->
<path d="M21.500 227.500v-2h10v2M26.500 225.500v13M24.200 238.500h4.600" stroke="#757575"/>
<!-- pattern -->
<g stroke="#757575">
<path d="M21.200 262.300l-1.700 10.800M22.500 262l1.800 3M20.300 273.500l3.800-5.600M26.500 265.500l3.300-2.700M26.500 267.800l5.600 3.600M31.400 263.400l1.700 7"/>
<circle cx="21.600" cy="260.600" r="1.700"/>
<circle cx="19.100" cy="274.800" r="1.700"/>
<rect x="23.500" y="265" width="3" height="3"/>
<circle cx="31" cy="261.700" r="1.700"/>
<circle cx="33.500" cy="272.200" r="1.700"/>
</g>
<!-- forecast -->
<g stroke="#757575">
<path d="M20.100 297.900h13.700M19.900 306.100h11.400M19.900 310.400h13.900"/>
<path d="M22 304.300l11-5.300" stroke-dasharray="1.200 1.800"/>
<circle cx="18.400" cy="297.900" r="1.700"/>
<circle cx="18.200" cy="306.100" r="1.700"/>
<circle cx="33" cy="306.100" r="1.700"/>
<circle cx="18.200" cy="310.400" r="1.700"/>
</g>
<!-- heart -->
<path d="M25.900 347.800c-3-2.700-9.300-6.800-9.300-11.300c0-2.600 2-4.500 4.400-4.500c2.200 0 3.900 1.300 4.900 3.200c1-1.900 2.700-3.200 4.900-3.200c2.400 0 4.400 1.900 4.400 4.500c0 4.500-6.300 8.600-9.300 11.300z" stroke="#757575"/>
<!-- ruler -->
<g stroke="#6e6e6e" stroke-width="1.1">
<path d="M23.4 393.500L37.700 379.400L32.500 374.200L14.300 392.200L15.500 393.500"/>
<path d="M17.400 389.200l2.300 2.300M20.400 386.200l3.300 3.300M23.400 383.200l2.200 2.200M26.500 380.100l3.300 3.300M29.500 377.100l2.100 2.200"/>
</g>
<!-- magnifier -->
<g stroke="#757575">
<circle cx="24.700" cy="417.700" r="6.400"/>
<path d="M22 417.700h5.400M24.700 415v5.400M29.300 422.300l3 2.800"/>
</g>
<!-- magnet -->
<g stroke="#757575">
<path d="M19.800 468.500v-8c0-3.500 2.700-6.300 6.100-6.300s6.100 2.800 6.100 6.300v8h-4v-8c0-1.200-.9-2.200-2.100-2.200s-2.100 1-2.100 2.200v8z"/>
<path d="M19.800 465.200h4M28 465.200h4"/>
</g>
<!-- pencil + lock -->
<g stroke="#757575">
<g transform="rotate(-45 23.500 495.300)">
<path d="M18 492.800h11.200a2.500 2.500 0 0 1 0 5H18l-2.600-1.200v-2.600z"/>
<path d="M18 492.800v5M18 495.800h12"/>
</g>
<rect x="27.500" y="500.500" width="6.300" height="5" rx=".8"/>
<path d="M28.700 500.500v-1.500c0-1.300.8-2.300 1.900-2.300c.8 0 1.400.5 1.700 1.200"/>
<path d="M30.600 502.700v.9"/>
</g>
<!-- lock -->
<g stroke="#757575">
<rect x="19.800" y="532.500" width="12.300" height="8.600" rx="1.500"/>
<path d="M22.800 532.500v-2c0-1.700 1.300-3 3-3s3 1 3 2.600"/>
<path d="M25.900 536v2" stroke-width="1.300"/>
</g>
<!-- chevron -->
<path d="M51.500 531l-2 3.400l2 3.400" stroke="#6a8ca8"/>
<!-- eye -->
<g stroke="#757575">
<path d="M16.200 569c2-4 5.300-6.500 9-6.500s7 2.500 9 6.500c-2 4-5.300 6.500-9 6.500s-7-2.500-9-6.500z"/>
<circle cx="25.200" cy="569" r="2.700"/>
<path d="M28.500 580.500c.8-1 1.400-1 2 0s1.200 1 2 0l1.200-1.600l.8 1.200l1.800-2.300" stroke-width=".9"/>
</g>
<!-- TV logo -->
<circle cx="79.500" cy="551.800" r="16.700" fill="#fff" stroke="#e0e3eb"/>
<g fill="#131722" stroke="none">
<path d="M68.900 547.300h9v10.400h-4v-6.900h-5z"/>
<circle cx="80.900" cy="549.100" r="1.700"/>
<path d="M85 547.300h5.200l-4 10.400h-5.300z"/>
</g>
<!-- axis settings gear (sun-like) -->
<g stroke="#131722" stroke-width="1.3">
<circle cx="1540.5" cy="588.5" r="4.9"/>
<path d="M1545.80 588.50L1547.90 588.50M1544.25 592.25L1545.73 593.73M1540.50 593.80L1540.50 595.90M1536.75 592.25L1535.27 593.73M1535.20 588.50L1533.10 588.50M1536.75 584.75L1535.27 583.27M1540.50 583.20L1540.50 581.10M1544.25 584.75L1545.73 583.27"/>
</g>

</svg>
</body>
</html>
